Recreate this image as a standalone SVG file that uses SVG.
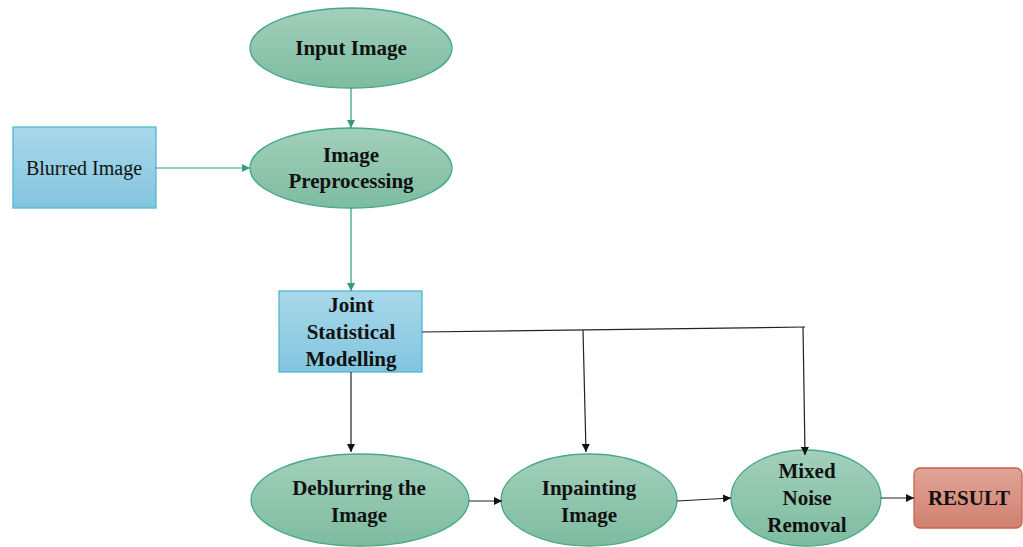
<svg xmlns="http://www.w3.org/2000/svg" width="1023" height="547" viewBox="0 0 1023 547">
<defs>
<linearGradient id="gE" x1="0" y1="0" x2="0" y2="1"><stop offset="0" stop-color="#a3cfbb"/><stop offset="1" stop-color="#7dbca1"/></linearGradient>
<linearGradient id="gB" x1="0" y1="0" x2="0" y2="1"><stop offset="0" stop-color="#a8d8ea"/><stop offset="1" stop-color="#83c5de"/></linearGradient>
<linearGradient id="gR" x1="0" y1="0" x2="0" y2="1"><stop offset="0" stop-color="#e2a497"/><stop offset="1" stop-color="#d0806f"/></linearGradient>
<marker id="aG" viewBox="0 0 10 10" refX="10" refY="5" markerWidth="8" markerHeight="8" markerUnits="userSpaceOnUse" orient="auto"><path d="M0,0 L10,5 L0,10 z" fill="#2f9e7d"/></marker>
<marker id="aK" viewBox="0 0 10 10" refX="10" refY="5" markerWidth="8" markerHeight="8" markerUnits="userSpaceOnUse" orient="auto"><path d="M0,0 L10,5 L0,10 z" fill="#111"/></marker>
</defs>
<style>
.ell{fill:url(#gE);stroke:#45a886;stroke-width:1.3}
.box{fill:url(#gB);stroke:#4fb8d3;stroke-width:1.3}
.res{fill:url(#gR);stroke:#c2654f;stroke-width:1.3}
.t{font-family:"Liberation Serif","Times New Roman",serif;font-size:21px;font-weight:bold;fill:#111;text-anchor:middle}
.tr{font-family:"Liberation Serif","Times New Roman",serif;font-size:20px;fill:#111;text-anchor:middle}
.cg{stroke:#2f9e7d;stroke-width:1.2;fill:none}
.ck{stroke:#222;stroke-width:1.2;fill:none}
</style>
<g id="input-image"><ellipse class="ell" cx="351" cy="48" rx="101" ry="40"/><text class="t" x="351" y="55">Input Image</text></g>
<g id="image-preprocessing"><ellipse class="ell" cx="351" cy="168" rx="101" ry="40"/><text class="t" x="351" y="162">Image</text><text class="t" x="351" y="188">Preprocessing</text></g>
<g id="blurred-image"><rect class="box" x="13" y="127" width="143" height="81"/><text class="tr" x="84" y="175">Blurred Image</text></g>
<g id="joint-statistical-modelling"><rect class="box" x="279" y="291" width="143" height="81"/><text class="t" x="351" y="312">Joint</text><text class="t" x="351" y="339">Statistical</text><text class="t" x="351" y="366">Modelling</text></g>
<g id="deblurring"><ellipse class="ell" cx="360" cy="500" rx="109" ry="46"/><text class="t" x="359" y="495">Deblurring the</text><text class="t" x="359" y="522">Image</text></g>
<g id="inpainting"><ellipse class="ell" cx="589" cy="500" rx="88" ry="46"/><text class="t" x="589" y="495">Inpainting</text><text class="t" x="589" y="522">Image</text></g>
<g id="mixed-noise-removal"><ellipse class="ell" cx="806" cy="498" rx="75" ry="48"/><text class="t" x="807" y="478">Mixed</text><text class="t" x="807" y="505">Noise</text><text class="t" x="807" y="532">Removal</text></g>
<g id="result"><rect class="res" x="914" y="468" width="108" height="60" rx="6"/><text class="t" x="969" y="505">RESULT</text></g>
<g id="connectors">
<line class="cg" x1="351" y1="88" x2="351" y2="128" marker-end="url(#aG)"/>
<line class="cg" x1="156" y1="168" x2="250" y2="168" marker-end="url(#aG)"/>
<line class="cg" x1="351" y1="208" x2="351" y2="291" marker-end="url(#aG)"/>
<line class="ck" x1="351" y1="372" x2="351" y2="452" marker-end="url(#aK)"/>
<line class="ck" x1="422" y1="332" x2="805" y2="327"/>
<line class="ck" x1="583" y1="330" x2="586" y2="452" marker-end="url(#aK)"/>
<line class="ck" x1="803" y1="327" x2="805" y2="455" marker-end="url(#aK)"/>
<line class="ck" x1="469" y1="501" x2="502" y2="501" marker-end="url(#aK)"/>
<line class="ck" x1="677" y1="501" x2="731" y2="498" marker-end="url(#aK)"/>
<line class="ck" x1="881" y1="498" x2="914" y2="498" marker-end="url(#aK)"/>
</g>
</svg>
